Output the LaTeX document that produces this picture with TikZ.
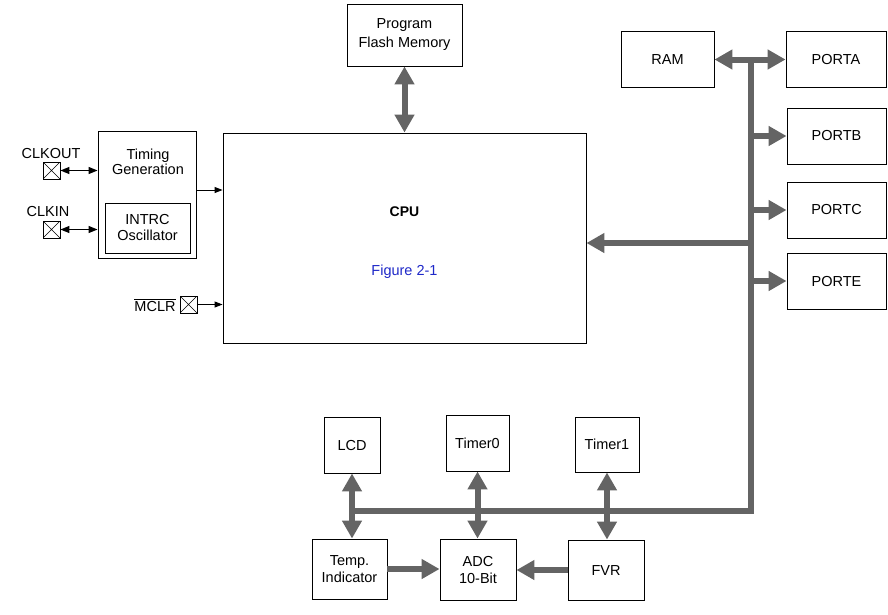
\documentclass[tikz,border=0pt]{standalone}
\usepackage{fontspec}
\setmainfont{Liberation Sans}
\usetikzlibrary{arrows.meta}
\definecolor{busgray}{RGB}{100,100,100}
\definecolor{figblue}{RGB}{30,40,200}
\begin{document}
\begin{tikzpicture}[x=1pt,y=-1pt]
\tikzstyle{blk}=[draw, line width=0.9pt, inner sep=0pt, align=center, font=\fontsize{14.5}{17}\selectfont]
\tikzstyle{tx}=[draw=none, fill=none, inner sep=0pt, align=center, font=\fontsize{14.5}{17}\selectfont]
\tikzstyle{iopad}=[draw, line width=0.8pt, minimum size=17pt, inner sep=0pt,
  path picture={\draw[line width=0.6pt] (path picture bounding box.north west) -- (path picture bounding box.south east)
    (path picture bounding box.north east) -- (path picture bounding box.south west);}]
\tikzstyle{busline}=[busgray, line width=6pt]
\tikzstyle{busarr}=[busgray, line width=6pt, -{Triangle[length=18pt,width=19pt]}]
\tikzstyle{busdbl}=[busgray, line width=6pt, {Triangle[length=18pt,width=19pt]}-{Triangle[length=18pt,width=19pt]}]
\tikzstyle{sig}=[line width=0.9pt, -{Triangle[length=8pt,width=6pt]}]
\tikzstyle{sigdbl}=[line width=1.2pt, {Triangle[length=9pt,width=7pt]}-{Triangle[length=9pt,width=7pt]}]
\useasboundingbox (0,0) rectangle (888,614);

% core
\node[blk, minimum width=115pt, minimum height=62pt, font=\fontsize{14.5}{19}\selectfont] (PFM) at (404.5,35) {Program\\Flash Memory};
\node[blk, minimum width=363pt, minimum height=210pt] (CPU) at (404.5,238) {};
\node[tx, font=\fontsize{14}{17}\bfseries] (CPUlbl) at (404.5,212) {CPU};
\node[tx, text=figblue] (fig) at (404.5,272) {Figure 2-1};

% clock block
\node[blk, minimum width=98pt, minimum height=127pt] (TG) at (147,194.5) {};
\node[tx, font=\fontsize{14.5}{15}\selectfont] (TGlbl) at (148,162) {Timing\\Generation};
\node[blk, minimum width=85pt, minimum height=50pt, font=\fontsize{14.5}{16}\selectfont] (OSC) at (147.5,228) {INTRC\\Oscillator};

\node[iopad] (clkout) at (51.5,170.5) {};
\node[tx] (clkoutlbl) at (51,154) {CLKOUT};
\node[iopad] (clkin) at (51.5,229.5) {};
\node[tx] (clkinlbl) at (48,212) {CLKIN};
\node[iopad] (mclr) at (188.5,304.5) {};
\node[tx] (mclrlbl) at (155,305) {$\overline{\mbox{MCLR}}$};

\draw[sigdbl] (clkout.east) -- (clkout.east -| TG.west);
\draw[sigdbl] (clkin.east) -- (clkin.east -| TG.west);
\coordinate (tgout) at (196,190);
\draw[sig] (tgout) -- (tgout -| CPU.west);
\draw[sig] (mclr.east) -- (mclr.east -| CPU.west);

% memory and ports
\node[blk, minimum width=93pt, minimum height=56pt] (RAM) at (667.5,59.5) {RAM};
\node[blk, minimum width=100pt, minimum height=56pt] (PORTA) at (836,59.5) {PORTA};
\node[blk, minimum width=99pt, minimum height=56pt] (PORTB) at (836.5,136) {PORTB};
\node[blk, minimum width=99pt, minimum height=56pt] (PORTC) at (836.5,210) {PORTC};
\node[blk, minimum width=99pt, minimum height=56pt] (PORTE) at (836.5,281) {PORTE};

% peripherals
\node[blk, minimum width=56pt, minimum height=56pt] (LCD) at (352,445) {LCD};
\node[blk, minimum width=63pt, minimum height=56pt] (Timer0) at (477.5,443) {Timer0};
\node[blk, minimum width=64pt, minimum height=55pt] (Timer1) at (607,444.5) {Timer1};
\node[blk, minimum width=75pt, minimum height=60pt] (Temp) at (349.5,569) {Temp.\\Indicator};
\node[blk, minimum width=76pt, minimum height=61pt] (ADC) at (478,569.5) {ADC\\10-Bit};
\node[blk, minimum width=76pt, minimum height=60pt] (FVR) at (606,570) {FVR};

% bus
\coordinate (busTop) at (751,59.5);
\coordinate (busCorner) at (751,511);
\coordinate (busEnd) at (352,511);
\coordinate (cpuTap) at (751,243);
\draw[busline] (busTop) -- (busCorner) -- (busEnd);
\draw[busdbl] (RAM.east) -- (PORTA.west);
\draw[busarr] (busTop |- PORTB.west) -- (PORTB.west);
\draw[busarr] (busTop |- PORTC.west) -- (PORTC.west);
\draw[busarr] (busTop |- PORTE.west) -- (PORTE.west);
\draw[busarr] (cpuTap) -- (cpuTap -| CPU.east);
\draw[busdbl] (PFM.south) -- (CPU.north);

\draw[busdbl] (LCD.south) -- (LCD.south |- Temp.north);
\draw[busdbl] (Timer0.south) -- (Timer0.south |- ADC.north);
\draw[busdbl] (Timer1.south) -- (Timer1.south |- FVR.north);
\draw[busarr] (Temp.east) -- (Temp.east -| ADC.west);
\draw[busarr] (FVR.west) -- (FVR.west -| ADC.east);
\end{tikzpicture}
\end{document}
